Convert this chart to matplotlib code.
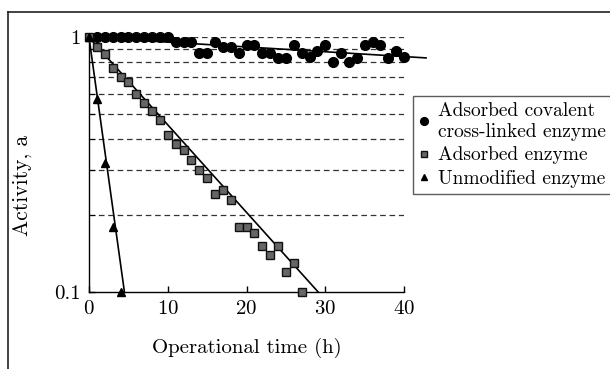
import matplotlib.pyplot as plt
from matplotlib.lines import Line2D

plt.rcParams['font.family'] = 'cmr10'
plt.rcParams['mathtext.fontset'] = 'cm'
plt.rcParams['axes.formatter.use_mathtext'] = True

# adsorbed covalent cross-linked enzyme (circles)
covalent_t = [1, 2, 3, 4, 5, 6, 7, 8, 9, 10,
              11, 12, 13, 14, 15, 16, 17, 18, 19, 20,
              21, 22, 23, 24, 25, 26, 27, 28, 29, 30,
              31, 32, 33, 34, 35, 36, 37, 38, 39, 40]
covalent_a = [1.0, 1.0, 1.0, 1.0, 1.0, 1.0, 1.0, 1.0, 1.0, 1.0,
              0.96, 0.96, 0.96, 0.87, 0.87, 0.96, 0.92, 0.92, 0.87, 0.93,
              0.93, 0.87, 0.87, 0.83, 0.83, 0.93, 0.87, 0.84, 0.88, 0.93,
              0.80, 0.87, 0.80, 0.83, 0.93, 0.96, 0.93, 0.83, 0.88, 0.84]

# adsorbed enzyme (squares)
adsorbed_t = [0, 1, 2, 3, 4, 5, 6, 7, 8, 9, 10, 11, 12, 13,
              14, 15, 16, 17, 18, 19, 20, 21, 22, 23, 24, 25, 26, 27]
adsorbed_a = [1.0, 0.92, 0.86, 0.755, 0.70, 0.67, 0.60, 0.55, 0.515, 0.474, 0.414, 0.38, 0.36, 0.33,
              0.30, 0.28, 0.243, 0.252, 0.23, 0.18, 0.18, 0.171, 0.151, 0.14, 0.151, 0.12, 0.13, 0.10]

# unmodified enzyme (triangles)
free_t = [0, 1, 2, 3, 4]
free_a = [1.0, 0.57, 0.32, 0.18, 0.10]

# fitted lines
covalent_fit_t = [0, 42.8]
covalent_fit_a = [1.0, 0.83]
adsorbed_fit_t = [0, 29.1]
adsorbed_fit_a = [1.0, 0.1]
free_fit_t = [0, 4.5]
free_fit_a = [1.0, 0.1]

grid_levels = [1.0, 0.9, 0.8, 0.7, 0.6, 0.5, 0.4, 0.3, 0.2]

fig = plt.figure(figsize=(6.1, 3.69), dpi=100)
ax = fig.add_axes([89 / 610, 1 - 292 / 369, 315 / 610, 254.7 / 369])
ax.set_yscale('log')

for lv in grid_levels:
    ax.plot([0, 40], [lv, lv], color='#333333', lw=0.9, ls=(0, (4.5, 3)), zorder=1)

ax.plot(covalent_fit_t, covalent_fit_a, color='black', lw=1.2, clip_on=False, zorder=2)
ax.plot(adsorbed_fit_t, adsorbed_fit_a, color='black', lw=1.2, clip_on=False, zorder=2)
ax.plot(free_fit_t, free_fit_a, color='black', lw=1.2, clip_on=False, zorder=2)

ax.plot(covalent_t, covalent_a, 'o', color='black', ms=7, clip_on=False, zorder=3,
        label='Adsorbed covalent\ncross-linked enzyme')
ax.plot(adsorbed_t, adsorbed_a, 's', mfc='#666666', mec='#111111', mew=1.0, ms=6.2, clip_on=False, zorder=3,
        label='Adsorbed enzyme')
ax.plot(free_t, free_a, '^', color='black', ms=6.2, clip_on=False, zorder=4,
        label='Unmodified enzyme')

ax.set_xlim(0, 40)
ax.set_ylim(0.1, 1)
ax.set_xticks([0, 10, 20, 30, 40])
ax.set_yticks([0.1, 1], ['0.1', '1'])
ax.set_yticks([0.2, 0.3, 0.4, 0.5, 0.6, 0.7, 0.8, 0.9], minor=True)
ax.yaxis.set_minor_formatter(plt.NullFormatter())
ax.tick_params(axis='both', which='major', direction='in', length=4, width=1, labelsize=15)
ax.tick_params(axis='x', which='major', pad=6)
ax.tick_params(axis='y', which='major', pad=6)
ax.tick_params(axis='y', which='minor', direction='in', length=4, width=0.8)
ax.spines['top'].set_visible(False)
ax.spines['right'].set_visible(False)
for s in ('left', 'bottom'):
    ax.spines[s].set_linewidth(1.0)

ax.set_xlabel('Operational time (h)', fontsize=15, labelpad=14)
fig.text(22 / 610, 1 - 185 / 369, 'Activity, a', rotation=90, fontsize=15.5, ha='center', va='center')

leg = fig.legend(loc='upper left', bbox_to_anchor=(413 / 610, 1 - 96 / 369), fontsize=14,
                 frameon=True, fancybox=False, edgecolor='#333333', handlelength=0.5,
                 handletextpad=0.5, labelspacing=0.3, borderpad=0.3, borderaxespad=0,
                 markerscale=0.8)
leg.get_frame().set_linewidth(1.0)

# outer frame lines of the original picture
fig.add_artist(Line2D([8 / 610, 8 / 610], [0, 1 - 12 / 369], transform=fig.transFigure, color='#222222', lw=1.2))
fig.add_artist(Line2D([8 / 610, 1], [1 - 12 / 369, 1 - 12 / 369], transform=fig.transFigure, color='#222222', lw=1.2))

fig.savefig('out.png', dpi=100)
